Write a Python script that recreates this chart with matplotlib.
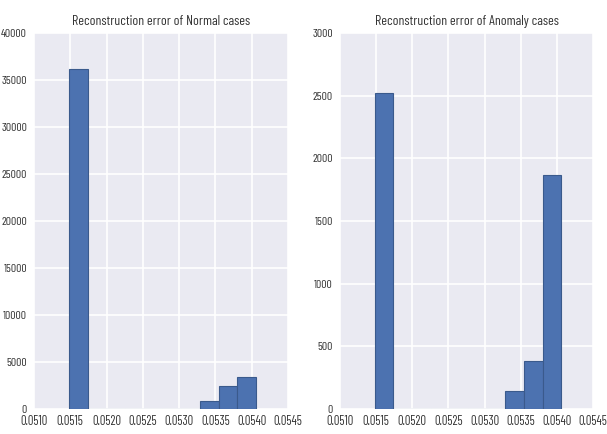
import numpy as np
import matplotlib
matplotlib.use("Agg")
import matplotlib.pyplot as plt

# histogram bins (10 bins between the min and max error)
bin_start = 0.05148
bin_end = 0.05406
normal_counts = [36200, 0, 0, 0, 0, 0, 0, 800, 2500, 3400]
anomaly_counts = [2520, 0, 0, 0, 0, 0, 0, 140, 380, 1870]

titles = ["Reconstruction error of Normal cases", "Reconstruction error of Anomaly cases"]
y_limits = [40000, 3000]
y_steps = [5000, 500]
x_ticks = [0.0510, 0.0515, 0.0520, 0.0525, 0.0530, 0.0535, 0.0540, 0.0545]

plt.rcParams['font.family'] = ['Barlow Condensed', 'Archivo Narrow', 'Liberation Sans', 'DejaVu Sans']

edges = np.linspace(bin_start, bin_end, len(normal_counts) + 1)

fig = plt.figure(figsize=(6.07, 4.34), dpi=100)
positions = [[34/607, 25/434, 254/607, 376/434], [340/607, 25/434, 253/607, 376/434]]

for pos, counts, title, ymax, ystep in zip(positions, [normal_counts, anomaly_counts],
                                         titles, y_limits, y_steps):
    ax = fig.add_axes(pos)
    ax.set_facecolor('#EAEAF2')
    ax.grid(True, color='white', linewidth=1.2)
    ax.set_axisbelow(True)
    for s in ax.spines.values():
        s.set_visible(False)
    ax.bar(edges[:-1], counts, width=np.diff(edges), align='edge',
           color='#4C72B0', edgecolor='#3a5a8c', linewidth=0.8)
    ax.set_xlim(0.0510, 0.0545)
    ax.set_ylim(0, ymax)
    ax.set_xticks(x_ticks)
    ax.set_xticklabels([f"{t:.4f}" for t in x_ticks])
    ax.set_yticks(np.arange(0, ymax + 1, ystep))
    ax.tick_params(axis='x', length=0, labelsize=9, colors='#333333', pad=4)
    ax.tick_params(axis='y', length=0, labelsize=8.5, colors='#333333', pad=5)
    ax.set_title(title, fontsize=10, color='#333333', pad=6)

plt.savefig("out.png", dpi=100)
